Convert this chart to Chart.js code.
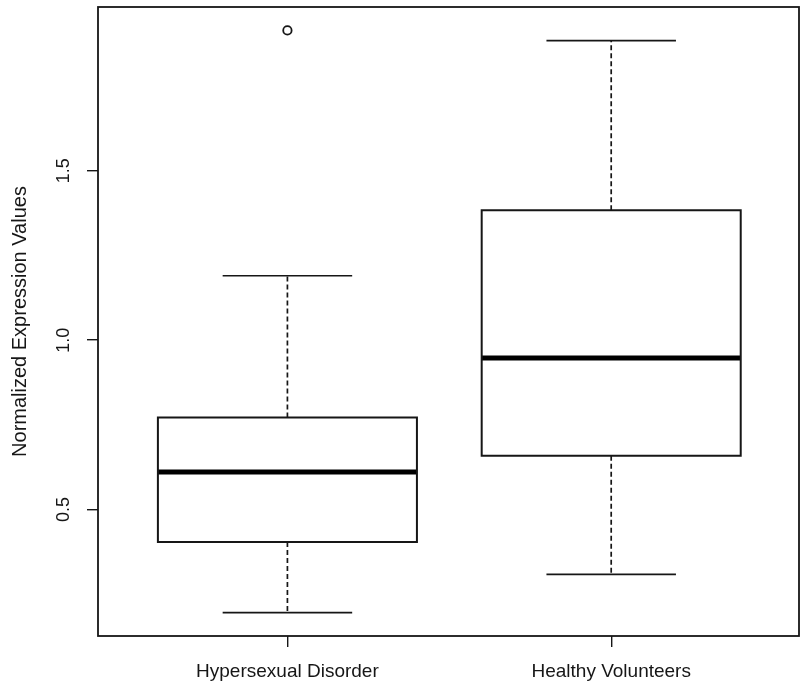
<!DOCTYPE html>
<html>
<head>
<meta charset="utf-8">
<script src="https://cdn.jsdelivr.net/npm/chart.js@4.4.0/dist/chart.umd.min.js"></script>
<style>
  body { margin: 0; background: #fff; }
</style>
</head>
<body>
<canvas id="box-chart" width="800" height="700"></canvas>
<script>
// values
const groups = ['Hypersexual Disorder', 'Healthy Volunteers'];
const lowerWhisker = [0.196, 0.309];
const q1 = [0.404, 0.659];
const median = [0.611, 0.947];
const q3 = [0.772, 1.383];
const upperWhisker = [1.190, 1.884];
const outliers = [[1.914], []];
const yTicks = [0.5, 1.0, 1.5];

const ink = '#161616';
const boxHalf = 0.4;
const capHalf = 0.2;

function line(points, width, dash, color, cap) {
    return {
        type: 'scatter',
        data: points,
        showLine: true,
        pointRadius: 0,
        borderColor: color || ink,
        borderWidth: width,
        borderDash: dash || [],
        borderCapStyle: cap || 'butt',
        borderJoinStyle: 'miter',
        fill: false
    };
}

let datasets = [];
groups.forEach((g, i) => {
    const x = i + 1;
    // dashed whiskers
    datasets.push(line([{x: x, y: q3[i]}, {x: x, y: upperWhisker[i]}], 1.7, [5, 3]));
    datasets.push(line([{x: x, y: q1[i]}, {x: x, y: lowerWhisker[i]}], 1.7, [5, 3]));
    // caps
    datasets.push(line([{x: x - capHalf, y: upperWhisker[i]}, {x: x + capHalf, y: upperWhisker[i]}], 1.7));
    datasets.push(line([{x: x - capHalf, y: lowerWhisker[i]}, {x: x + capHalf, y: lowerWhisker[i]}], 1.7));
    // box
    datasets.push(line([
        {x: x - boxHalf, y: q1[i]}, {x: x + boxHalf, y: q1[i]},
        {x: x + boxHalf, y: q3[i]}, {x: x - boxHalf, y: q3[i]},
        {x: x - boxHalf, y: q1[i]}
    ], 2, null, ink, 'square'));
    // median
    datasets.push(line([{x: x - boxHalf, y: median[i]}, {x: x + boxHalf, y: median[i]}], 5, null, '#000'));
});

// outlier points
let outlierPoints = [];
outliers.forEach((vals, i) => vals.forEach(v => outlierPoints.push({x: i + 1, y: v})));
datasets.push({
    type: 'scatter',
    data: outlierPoints,
    pointStyle: 'circle',
    pointRadius: 4.2,
    pointBackgroundColor: '#fff',
    pointBorderColor: ink,
    pointBorderWidth: 1.8
});

// full frame round the plot region
const frame = {
    id: 'frame',
    afterDraw(chart) {
        const {ctx, chartArea: a} = chart;
        ctx.save();
        ctx.strokeStyle = ink;
        ctx.lineWidth = 1.8;
        ctx.strokeRect(a.left, a.top, a.right - a.left, a.bottom - a.top);
        ctx.restore();
    }
};

const fontFamily = "'Liberation Sans', Arial, sans-serif";

new Chart(document.getElementById('box-chart').getContext('2d'), {
    type: 'scatter',
    data: { datasets: datasets },
    options: {
        responsive: false,
        animation: false,
        layout: { autoPadding: false, padding: { left: 0, top: 7, right: 1, bottom: 0 } },
        plugins: {
            legend: { display: false },
            tooltip: { enabled: false }
        },
        scales: {
            x: {
                type: 'linear',
                min: 0.415,
                max: 2.58,
                afterBuildTicks: (scale) => { scale.ticks = groups.map((g, i) => ({value: i + 1})); },
                afterFit: (scale) => {
                    scale.height = 64;
                    scale.paddingLeft = 0;
                    scale.paddingRight = 0;
                },
                ticks: {
                    color: ink,
                    padding: 13,
                    font: { family: fontFamily, size: 19 },
                    callback: (v) => groups[v - 1]
                },
                grid: { drawOnChartArea: false, tickLength: 11, color: ink, lineWidth: 1.4 },
                border: { display: false }
            },
            y: {
                type: 'linear',
                min: 0.127,
                max: 1.983,
                afterBuildTicks: (scale) => { scale.ticks = yTicks.map(v => ({value: v})); },
                afterFit: (scale) => {
                    scale.width = 98;
                    scale.paddingTop = 0;
                    scale.paddingBottom = 0;
                },
                ticks: {
                    color: ink,
                    padding: 10,
                    minRotation: 90,
                    maxRotation: 90,
                    crossAlign: 'center',
                    font: { family: fontFamily, size: 18 },
                    callback: (v) => v.toFixed(1)
                },
                grid: { drawOnChartArea: false, tickLength: 11, color: ink, lineWidth: 1.4 },
                border: { display: false },
                title: {
                    display: true,
                    text: 'Normalized Expression Values',
                    color: ink,
                    padding: { top: 8, bottom: 0 },
                    font: { family: fontFamily, size: 20 }
                }
            }
        }
    },
    plugins: [frame]
});
</script>
</body>
</html>
